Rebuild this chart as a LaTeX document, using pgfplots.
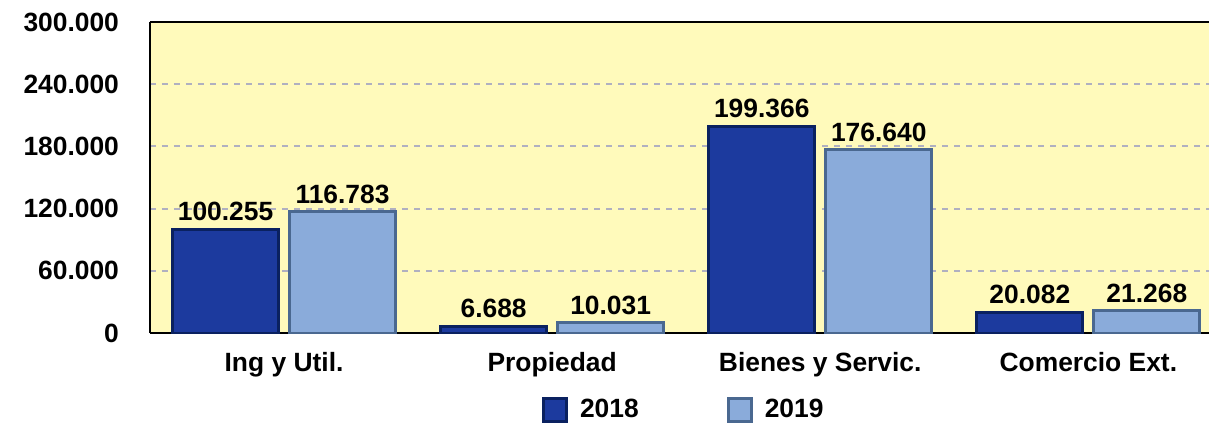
\documentclass[border=0pt]{standalone}
\usepackage{fontspec}
\setmainfont{Liberation Sans}
\usepackage{pgfplots}
\pgfplotsset{compat=1.18}
\definecolor{bgyellow}{HTML}{FFFABB}
\definecolor{darkblue}{HTML}{1C3A9E}
\definecolor{darkblueedge}{HTML}{0A2160}
\definecolor{lightblue}{HTML}{8AABDA}
\definecolor{lightblueedge}{HTML}{4A6890}
\definecolor{gridgray}{HTML}{B0B0C0}
\begin{document}
\begin{tikzpicture}
\useasboundingbox (-75pt,-45.5pt) rectangle (529.5pt,166.5pt);
\begin{axis}[
  at={(0,0)}, anchor=south west,
  scale only axis,
  width=529.5pt, height=155.5pt,
  ybar=5.5pt, bar width=53pt,
  xmin=-0.5, xmax=3.45,
  ymin=0, ymax=300000,
  scaled y ticks=false,
  xtick={0,1,2,3},
  xticklabels={Ing y Util., Propiedad, Bienes y Servic., Comercio Ext.},
  ytick={0,60000,120000,180000,240000,300000},
  yticklabels={0,60.000,120.000,180.000,240.000,300.000},
  major tick length=0pt,
  tick label style={font=\fontsize{13.2}{15}\selectfont\bfseries},
  xticklabel shift=6pt,
  yticklabel shift=12pt,
  axis x line=box, axis y line=left,
  axis line style={-, line width=1pt, black},
  axis background/.style={fill=bgyellow},
  ymajorgrids,
  major grid style={gridgray, line width=1pt, dash pattern=on 3pt off 3pt},
  nodes near coords,
  point meta=explicit symbolic,
  every node near coord/.append style={font=\fontsize{13.2}{15}\selectfont\bfseries, black},
  legend style={at={(0.505,-0.248)}, anchor=center, draw=none, fill=none,
    font=\fontsize{13.2}{15}\selectfont\bfseries,
    /tikz/every odd column/.append style={column sep=4pt},
    /tikz/every even column/.append style={column sep=42pt}},
  legend columns=2,
  legend image code/.code={\draw[#1] (0pt,-5.75pt) rectangle (11.5pt,5.75pt);},
]
\addplot[fill=darkblue, draw=darkblueedge, line width=1.5pt] coordinates {
  (0,100255) [100.255]
  (1,6688) [6.688]
  (2,199366) [199.366]
  (3,20082) [20.082]
};
\addlegendentry{2018}
\addplot[fill=lightblue, draw=lightblueedge, line width=1.5pt] coordinates {
  (0,116783) [116.783]
  (1,10031) [10.031]
  (2,176640) [176.640]
  (3,21268) [21.268]
};
\addlegendentry{2019}
\end{axis}
\end{tikzpicture}
\end{document}
